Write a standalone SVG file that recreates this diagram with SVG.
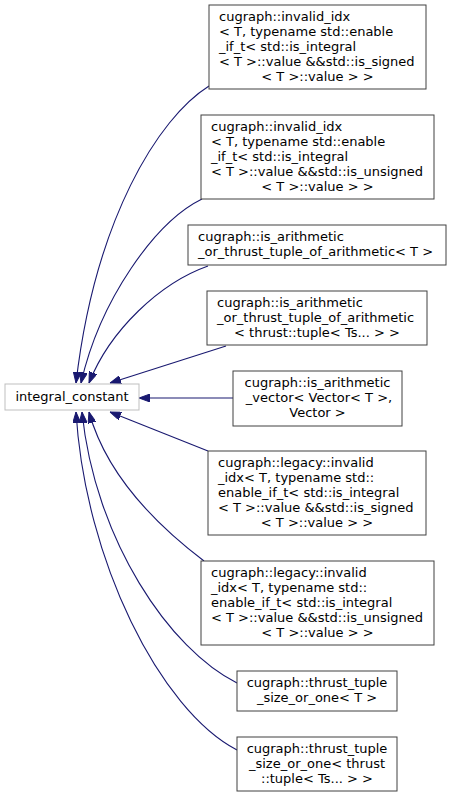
<svg xmlns="http://www.w3.org/2000/svg" width="452" height="797" viewBox="0 0 452 797">
<style>
.n rect{fill:#ffffff;stroke:#404040;stroke-width:1}
.root rect{fill:#ffffff;stroke:#bfbfbf;stroke-width:1}
text{font-family:"DejaVu Sans",sans-serif;font-size:13px;fill:#000000}
.c{text-anchor:middle}
.e path{fill:none;stroke:#191970;stroke-width:1.1;marker-end:url(#ah)}
</style>
<defs>
<marker id="ah" markerUnits="userSpaceOnUse" viewBox="0 0 11 8" refX="11" refY="4" markerWidth="11" markerHeight="8" orient="auto">
<path d="M0,0 L11,4 L0,8 z" fill="#191970" stroke="#191970" stroke-width="1"/>
</marker>
</defs>
<g id="edges" class="e">
<path d="M209,86 C158,118 95,220 76,383"/>
<path d="M202,199 C155,222 100,300 81,383"/>
<path d="M208,266 C160,283 110,330 89,383"/>
<path d="M226,346 L110,383"/>
<path d="M233,398 L139,398"/>
<path d="M208,451 L110,412"/>
<path d="M204,561 C150,520 105,470 89,412"/>
<path d="M237,683 C170,650 95,540 82,412"/>
<path d="M237,750 C160,710 85,560 76,412"/>
</g>
<g id="integral_constant" class="root">
<rect x="5" y="384" width="134" height="26"/>
<text class="c" x="72" y="401">integral_constant</text>
</g>
<g id="n1" class="n">
<rect x="209" y="5" width="217" height="84"/>
<text x="219" y="21">cugraph::invalid_idx</text>
<text x="219" y="36">&lt; T, typename std::enable</text>
<text x="219" y="51">_if_t&lt; std::is_integral</text>
<text x="219" y="66">&lt; T &gt;::value &amp;&amp;std::is_signed</text>
<text class="c" x="317.5" y="81">&lt; T &gt;::value &gt; &gt;</text>
</g>
<g id="n2" class="n">
<rect x="201" y="115" width="233" height="84"/>
<text x="211" y="131">cugraph::invalid_idx</text>
<text x="211" y="146">&lt; T, typename std::enable</text>
<text x="211" y="161">_if_t&lt; std::is_integral</text>
<text x="211" y="176">&lt; T &gt;::value &amp;&amp;std::is_unsigned</text>
<text class="c" x="317.5" y="191">&lt; T &gt;::value &gt; &gt;</text>
</g>
<g id="n3" class="n">
<rect x="188" y="225" width="258" height="40"/>
<text x="198" y="241">cugraph::is_arithmetic</text>
<text x="198" y="256">_or_thrust_tuple_of_arithmetic&lt; T &gt;</text>
</g>
<g id="n4" class="n">
<rect x="207" y="291" width="220" height="54"/>
<text x="217" y="307">cugraph::is_arithmetic</text>
<text x="217" y="322">_or_thrust_tuple_of_arithmetic</text>
<text class="c" x="317" y="337">&lt; thrust::tuple&lt; Ts... &gt; &gt;</text>
</g>
<g id="n5" class="n">
<rect x="233" y="371" width="169" height="55"/>
<text class="c" x="317.5" y="387">cugraph::is_arithmetic</text>
<text class="c" x="319" y="402">_vector&lt; Vector&lt; T &gt;,</text>
<text class="c" x="317.5" y="417">Vector &gt;</text>
</g>
<g id="n6" class="n">
<rect x="208" y="451" width="218" height="84"/>
<text x="218" y="467">cugraph::legacy::invalid</text>
<text x="218" y="482">_idx&lt; T, typename std::</text>
<text x="218" y="497">enable_if_t&lt; std::is_integral</text>
<text x="218" y="512">&lt; T &gt;::value &amp;&amp;std::is_signed</text>
<text class="c" x="317" y="527">&lt; T &gt;::value &gt; &gt;</text>
</g>
<g id="n7" class="n">
<rect x="201" y="561" width="233" height="84"/>
<text x="211" y="577">cugraph::legacy::invalid</text>
<text x="211" y="592">_idx&lt; T, typename std::</text>
<text x="211" y="607">enable_if_t&lt; std::is_integral</text>
<text x="211" y="622">&lt; T &gt;::value &amp;&amp;std::is_unsigned</text>
<text class="c" x="317.5" y="637">&lt; T &gt;::value &gt; &gt;</text>
</g>
<g id="n8" class="n">
<rect x="237" y="671" width="160" height="40"/>
<text class="c" x="317" y="687">cugraph::thrust_tuple</text>
<text class="c" x="317" y="702">_size_or_one&lt; T &gt;</text>
</g>
<g id="n9" class="n">
<rect x="237" y="737" width="160" height="54"/>
<text class="c" x="317" y="753">cugraph::thrust_tuple</text>
<text class="c" x="317" y="768">_size_or_one&lt; thrust</text>
<text class="c" x="317" y="783">::tuple&lt; Ts... &gt; &gt;</text>
</g>
</svg>
